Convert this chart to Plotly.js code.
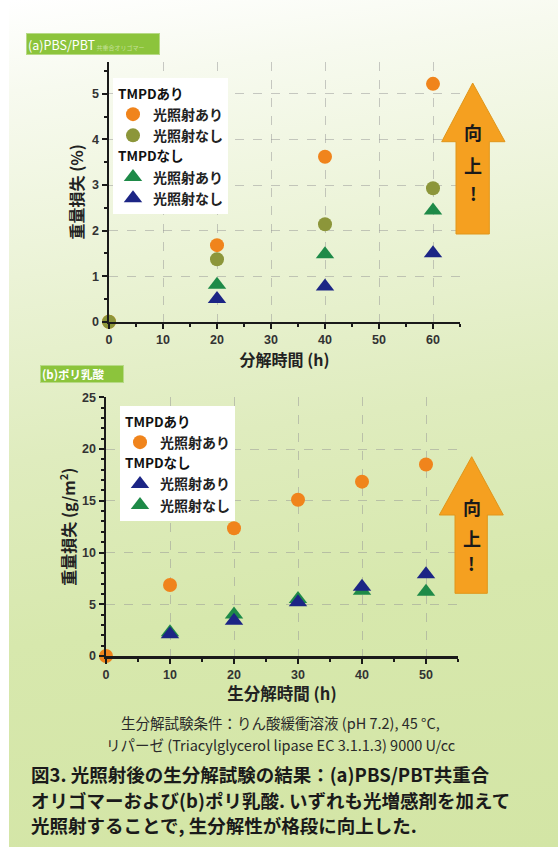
<!DOCTYPE html>
<html>
<head>
<meta charset="utf-8">
<script src="https://cdn.plot.ly/plotly-3.0.1.min.js"></script>
<style>
html,body{margin:0;padding:0;background:#ffffff;}
#wrap{position:absolute;left:0;top:0;width:558px;height:847px;background:#ffffff;}
#bg{position:absolute;left:9px;top:0;width:549px;height:847px;
 background:linear-gradient(172deg,#ffffff 0%,#f7faef 10%,#ebf3d6 30%,#dfecbe 50%,#d7e8ad 70%,#d3e5a5 100%);}
#chart{position:absolute;left:0;top:0;width:558px;height:847px;}
</style>
</head>
<body>
<div id="wrap"><div id="bg"></div><div id="chart"></div></div>
<script>
// ---------- data: (a) PBS/PBT ----------
const timeA = [0, 20, 40, 60];
const timeA_tri = [20, 40, 60];
const tmpdIrrA = [0, 1.68, 3.62, 5.22];      // TMPDあり 光照射あり
const tmpdNoIrrA = [0, 1.37, 2.14, 2.93];    // TMPDあり 光照射なし
const noTmpdIrrA = [0.81, 1.48, 2.44];       // TMPDなし 光照射あり
const noTmpdNoIrrA = [0.50, 0.77, 1.50];     // TMPDなし 光照射なし
const ticksA_x = [0, 10, 20, 30, 40, 50, 60];
const ticksA_y = [0, 1, 2, 3, 4, 5];

// ---------- data: (b) ポリ乳酸 ----------
const timeB = [0, 10, 20, 30, 40, 50];
const timeB_tri = [10, 20, 30, 40, 50];
const tmpdIrrB = [0, 6.86, 12.35, 15.1, 16.85, 18.5];  // TMPDあり 光照射あり
const noTmpdIrrB = [2.1, 3.4, 5.2, 6.7, 7.9];          // TMPDなし 光照射あり
const noTmpdNoIrrB = [2.3, 4.0, 5.5, 6.3, 6.2];        // TMPDなし 光照射なし
const ticksB_x = [0, 10, 20, 30, 40, 50];
const ticksB_y = [0, 5, 10, 15, 20, 25];

const W = 558, H = 847;
const px = v => v / W;
const py = v => 1 - v / H;

const ORANGE = '#f0841c', OLIVE = '#8c963a', GREEN = '#1e8a48', NAVY = '#1c2585';
const JP = '"Noto Sans CJK JP", "Noto Sans", sans-serif';
const NUM = '"Liberation Sans", Arial, sans-serif';

const gtitle = t => ({text: t, font: {family: JP, size: 13.5, color: '#111', weight: 'bold'}});
const circ = (x, y, c, name, grp, gt, leg, xa, ya, rank) => ({
  type: 'scatter', mode: 'markers', x, y, name, legendgroup: grp, legend: leg,
  legendgrouptitle: gtitle(gt), xaxis: xa, yaxis: ya, legendrank: rank, cliponaxis: false,
  marker: {symbol: 'circle', size: 14, color: c, line: {width: 0}}
});
const tri = (x, y, c, name, grp, gt, leg, xa, ya, rank) => ({
  type: 'scatter', mode: 'markers', x, y, name, legendgroup: grp, legend: leg,
  legendgrouptitle: gtitle(gt), xaxis: xa, yaxis: ya, legendrank: rank, cliponaxis: false,
  marker: {symbol: 'triangle-up', size: 16, color: c, line: {width: 0}}
});

const data = [
  circ(timeA, tmpdIrrA, ORANGE, '光照射あり', 'a1', 'TMPDあり', 'legend', 'x', 'y', 1),
  circ(timeA, tmpdNoIrrA, OLIVE, '光照射なし', 'a1', 'TMPDあり', 'legend', 'x', 'y', 2),
  tri(timeA_tri, noTmpdIrrA, GREEN, '光照射あり', 'a2', 'TMPDなし', 'legend', 'x', 'y', 3),
  tri(timeA_tri, noTmpdNoIrrA, NAVY, '光照射なし', 'a2', 'TMPDなし', 'legend', 'x', 'y', 4),
  circ(timeB, tmpdIrrB, ORANGE, '光照射あり', 'b1', 'TMPDあり', 'legend2', 'x2', 'y2', 1),
  tri(timeB_tri, noTmpdNoIrrB, GREEN, '光照射なし', 'b2', 'TMPDなし', 'legend2', 'x2', 'y2', 3),
  tri(timeB_tri, noTmpdIrrB, NAVY, '光照射あり', 'b2', 'TMPDなし', 'legend2', 'x2', 'y2', 2)
];

const axisBase = {
  showline: true, linecolor: '#1a1a1a', linewidth: 2.5, mirror: false,
  ticks: 'outside', ticklen: 5, tickwidth: 2, tickcolor: '#1a1a1a',
  showgrid: true, gridcolor: 'rgba(150,150,150,0.5)', griddash: 'dash', gridwidth: 1,
  zeroline: false, tickfont: {family: NUM, size: 12.5, color: '#333', weight: 'bold'},
  automargin: false, fixedrange: true
};
const minorT = d => ({dtick: d, tick0: 0, ticks: 'outside', ticklen: 3, tickcolor: '#1a1a1a', tickwidth: 2, showgrid: false});
const ttl = (t, s, so) => ({text: t, font: {family: JP, size: s, color: '#222', weight: 'bold'}, standoff: so});

const annot = (x, y, text, size, extra) => Object.assign({
  xref: 'paper', yref: 'paper', x: px(x), y: py(y), xanchor: 'center', yanchor: 'middle',
  text, showarrow: false, font: {family: JP, size, color: '#1a1a1a', weight: 'bold'}
}, extra || {});

const legendBase = {
  xanchor: 'left', yanchor: 'top', bgcolor: '#ffffff', borderwidth: 0,
  tracegroupgap: 0, traceorder: 'grouped',
  font: {family: JP, size: 14, color: '#222', weight: 'bold'}, itemclick: false
};

const layout = {
  width: W, height: H,
  margin: {l: 0, r: 0, t: 0, b: 0},
  paper_bgcolor: 'rgba(0,0,0,0)', plot_bgcolor: 'rgba(0,0,0,0)',
  showlegend: true,
  xaxis: Object.assign({}, axisBase, {
    domain: [px(109), px(460)], range: [0, 65], anchor: 'y',
    tickvals: ticksA_x, ticktext: ticksA_x.map(String), minor: minorT(5),
    title: ttl('分解時間 (h)', 16, 0)
  }),
  yaxis: Object.assign({}, axisBase, {
    domain: [py(321.7), py(62)], range: [0, 5.7], anchor: 'x',
    tickvals: ticksA_y, ticktext: ticksA_y.map(String), minor: minorT(0.5),
    title: ttl('重量損失 (%)', 16, 5)
  }),
  xaxis2: Object.assign({}, axisBase, {
    domain: [px(106), px(458)], range: [0, 55], anchor: 'y2',
    tickvals: ticksB_x, ticktext: ticksB_x.map(String), minor: minorT(5),
    title: ttl('生分解時間 (h)', 16.5, 0)
  }),
  yaxis2: Object.assign({}, axisBase, {
    domain: [py(656), py(397.3)], range: [0, 25], anchor: 'x2',
    tickvals: ticksB_y, ticktext: ticksB_y.map(String), minor: minorT(1),
    title: ttl('重量損失 (g/m<sup>2</sup>)', 16, 3)
  }),
  legend: Object.assign({}, legendBase, {x: px(113), y: py(78)}),
  legend2: Object.assign({}, legendBase, {x: px(120), y: py(406)}),
  shapes: [
    {type: 'path', xref: 'paper', yref: 'paper', layer: 'above',
     path: `M ${px(472.7)} ${py(83)} L ${px(505)} ${py(141.7)} L ${px(489.3)} ${py(141.7)} L ${px(489.3)} ${py(234)} L ${px(456)} ${py(234)} L ${px(456)} ${py(141.7)} L ${px(441.7)} ${py(141.7)} Z`,
     fillcolor: '#f5a020', line: {color: '#e0961a', width: 1}},
    {type: 'path', xref: 'paper', yref: 'paper', layer: 'above',
     path: `M ${px(471.7)} ${py(456.7)} L ${px(503.3)} ${py(515)} L ${px(487.3)} ${py(515)} L ${px(487.3)} ${py(593.3)} L ${px(455)} ${py(593.3)} L ${px(455)} ${py(515)} L ${px(439.3)} ${py(515)} Z`,
     fillcolor: '#f5a020', line: {color: '#e0961a', width: 1}}
  ],
  annotations: [
    {xref: 'paper', yref: 'paper', x: px(26), y: py(33), xanchor: 'left', yanchor: 'top',
     text: '(a)PBS/PBT<span style="font-size:6px;color:#c4e09a"> 共重合オリゴマー</span>', showarrow: false, align: 'left',
     width: 130, height: 18, bgcolor: '#8cc43c', bordercolor: '#b7da86', borderwidth: 1, borderpad: 1,
     font: {family: JP, size: 12.5, color: '#ffffff'}},
    {xref: 'paper', yref: 'paper', x: px(40), y: py(365), xanchor: 'left', yanchor: 'top',
     text: '(b)ポリ乳酸', showarrow: false, align: 'left',
     width: 80, height: 14, bgcolor: '#8cc43c', bordercolor: '#b7da86', borderwidth: 1, borderpad: 1,
     font: {family: JP, size: 11.5, color: '#ffffff', weight: 'bold'}},
    annot(473, 132, '向', 18),
    annot(473, 165, '上', 18),
    annot(473, 193, '!', 18),
    annot(471.5, 507, '向', 18),
    annot(471.5, 538, '上', 18),
    annot(471.5, 563, '!', 18),
    annot(280, 722, '生分解試験条件：りん酸緩衝溶液 (pH 7.2), 45 °C,', 14.5, {font: {family: JP, size: 14.5, color: '#2a2a2a'}}),
    annot(280, 744, 'リパーゼ (Triacylglycerol lipase EC 3.1.1.3) 9000 U/cc', 14.5, {font: {family: JP, size: 14.5, color: '#2a2a2a'}}),
    annot(29, 774, '図3. 光照射後の生分解試験の結果：(a)PBS/PBT共重合', 18.5, {xanchor: 'left'}),
    annot(29, 799.5, 'オリゴマーおよび(b)ポリ乳酸. いずれも光増感剤を加えて', 18.5, {xanchor: 'left'}),
    annot(29, 825, '光照射することで, 生分解性が格段に向上した.', 18.5, {xanchor: 'left'})
  ]
};

Plotly.newPlot('chart', data, layout, {displayModeBar: false, staticPlot: true});
</script>
</body>
</html>
